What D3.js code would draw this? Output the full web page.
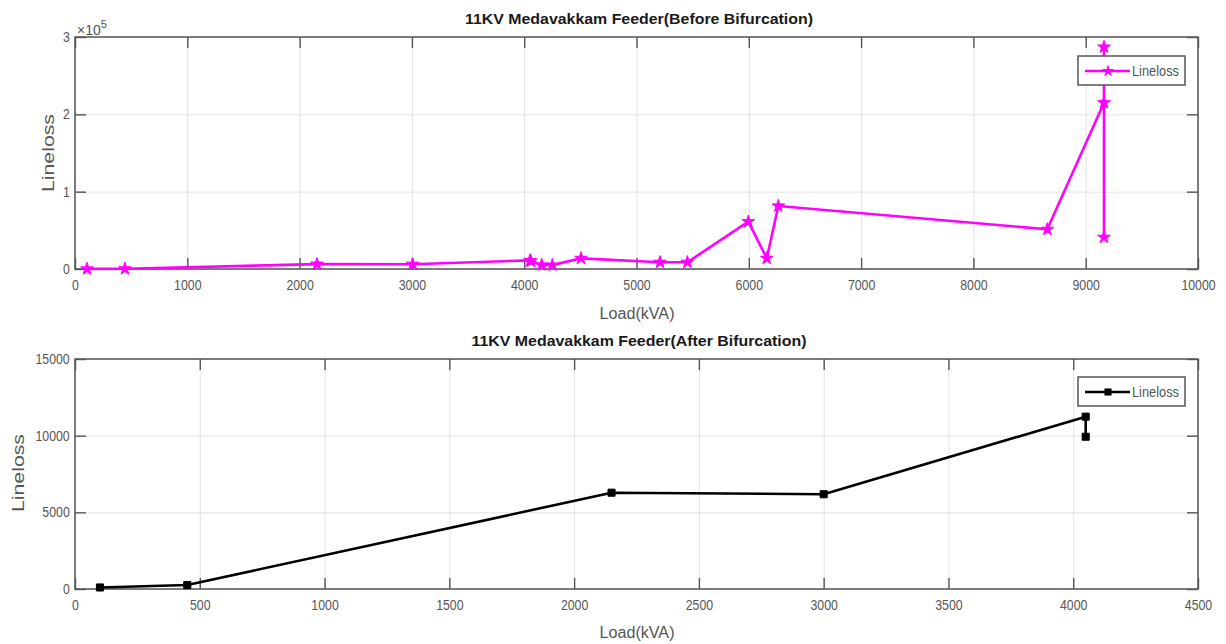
<!DOCTYPE html>
<html>
<head>
<meta charset="utf-8">
<script src="https://cdnjs.cloudflare.com/ajax/libs/d3/7.8.5/d3.min.js"></script>
<style>
  body { margin: 0; background: #fff; }
  text { font-family: "Liberation Sans", Arial, sans-serif; }
</style>
</head>
<body>
<script>
// before bifurcation (magenta)
const loadBefore = [107, 445, 2155, 3007, 4052, 4060, 4156, 4251, 4506, 5209, 5453, 5996, 6160, 6263, 8658, 9163, 9163, 9163];
const lossBefore = [100, 260, 6300, 6200, 11200, 9900, 5200, 5000, 13800, 8700, 8700, 61200, 13800, 81500, 51300, 215000, 287000, 41000];
const xTicksBefore = [0, 1000, 2000, 3000, 4000, 5000, 6000, 7000, 8000, 9000, 10000];
const yTicksBefore = [0, 100000, 200000, 300000];

// after bifurcation (black)
const loadAfter = [100, 450, 2150, 3000, 4050, 4050];
const lossAfter = [100, 260, 6280, 6180, 11240, 9930];
const xTicksAfter = [0, 500, 1000, 1500, 2000, 2500, 3000, 3500, 4000, 4500];
const yTicksAfter = [0, 5000, 10000, 15000];

const svg = d3.select("body").append("svg")
    .attr("width", 1226)
    .attr("height", 644);

function drawPanel(p) {
    let w = p.right - p.left,
        h = p.bottom - p.top;

    let x = d3.scaleLinear().domain(p.xDomain).range([0, w]),
        y = d3.scaleLinear().domain(p.yDomain).range([h, 0]);

    let g = svg.append("g").attr("transform", "translate(" + p.left + "," + p.top + ")");

    // grid
    g.append("g").attr("class", "grid")
        .attr("transform", "translate(0," + h + ")")
        .call(d3.axisBottom(x).tickValues(p.xTicks).tickSize(-h).tickFormat(""));
    g.append("g").attr("class", "grid")
        .call(d3.axisLeft(y).tickValues(p.yTicks).tickSize(-w).tickFormat(""));
    g.selectAll(".grid line").attr("stroke", "#e2e2e2").attr("stroke-width", 1);
    g.selectAll(".grid .domain").remove();

    // box
    g.append("rect").attr("width", w).attr("height", h)
        .attr("fill", "none").attr("stroke", "#606060").attr("stroke-width", 1.6);

    // inward ticks on all four sides
    let tk = 11;
    let inward = [
        g.append("g").attr("transform", "translate(0," + h + ")").call(d3.axisTop(x).tickValues(p.xTicks).tickSize(tk).tickFormat("")),
        g.append("g").call(d3.axisBottom(x).tickValues(p.xTicks).tickSize(tk).tickFormat("")),
        g.append("g").call(d3.axisRight(y).tickValues(p.yTicks).tickSize(tk).tickFormat("")),
        g.append("g").attr("transform", "translate(" + w + ",0)").call(d3.axisLeft(y).tickValues(p.yTicks).tickSize(tk).tickFormat(""))
    ];
    inward.forEach(a => {
        a.select(".domain").remove();
        a.selectAll("line").attr("stroke", "#555").attr("stroke-width", 1.4);
    });

    // tick labels
    let xl = g.append("g").attr("transform", "translate(0," + h + ")")
        .call(d3.axisBottom(x).tickValues(p.xTicks).tickSize(0).tickPadding(11).tickFormat(d3.format("d")));
    let yl = g.append("g")
        .call(d3.axisLeft(y).tickValues(p.yTicks).tickSize(0).tickPadding(6).tickFormat(p.yFormat));
    [xl, yl].forEach(a => {
        a.select(".domain").remove();
        a.selectAll("text")
            .attr("font-size", 14)
            .attr("font-family", "Liberation Sans, Arial, sans-serif")
            .attr("fill", "#555")
            .attr("transform", "scale(0.88,1)");
    });

    // line + markers
    let pts = p.xs.map((d, i) => [d, p.ys[i]]);
    let line = d3.line().x(d => x(d[0])).y(d => y(d[1]));
    g.append("path").datum(pts)
        .attr("d", line)
        .attr("fill", "none")
        .attr("stroke", p.color)
        .attr("stroke-width", 2.6)
        .attr("stroke-linejoin", "round");

    let sym = d3.symbol().type(p.symbol).size(p.symSize);
    g.selectAll(".mk").data(pts).enter().append("path")
        .attr("class", "mk")
        .attr("transform", d => "translate(" + x(d[0]) + "," + y(d[1]) + ")")
        .attr("d", sym)
        .attr("fill", p.color)
        .attr("stroke", p.color)
        .attr("stroke-width", 1);

    // title
    svg.append("text")
        .attr("x", p.titleX).attr("y", p.titleY)
        .attr("text-anchor", "middle")
        .attr("font-size", 15).attr("font-weight", "bold")
        .attr("fill", "#1a1a1a")
        .attr("textLength", p.titleLen).attr("lengthAdjust", "spacingAndGlyphs")
        .text(p.title);

    // x label
    svg.append("text")
        .attr("x", 637).attr("y", p.xLabelY)
        .attr("text-anchor", "middle")
        .attr("font-size", 16).attr("fill", "#555")
        .attr("textLength", 75).attr("lengthAdjust", "spacingAndGlyphs")
        .text("Load(kVA)");

    // y label
    svg.append("text")
        .attr("transform", "translate(" + p.yLabelX + "," + p.yLabelY + ") rotate(-90)")
        .attr("text-anchor", "middle")
        .attr("font-size", 17).attr("fill", "#555")
        .attr("textLength", 78).attr("lengthAdjust", "spacingAndGlyphs")
        .text("Lineloss");

    // legend
    let lg = svg.append("g").attr("transform", "translate(" + p.legX + "," + p.legY + ")");
    lg.append("rect").attr("width", 107).attr("height", 29)
        .attr("fill", "#fff").attr("stroke", "#555").attr("stroke-width", 1.5);
    lg.append("line").attr("x1", 7).attr("x2", 52).attr("y1", 15).attr("y2", 15)
        .attr("stroke", p.color).attr("stroke-width", 2.6);
    lg.append("path").attr("transform", "translate(30,15)")
        .attr("d", sym).attr("fill", p.color);
    lg.append("text").attr("x", 54).attr("y", 20)
        .attr("font-size", 14).attr("fill", "#555")
        .attr("textLength", 47).attr("lengthAdjust", "spacingAndGlyphs")
        .text("Lineloss");

    return g;
}

drawPanel({
    left: 75, right: 1198, top: 37, bottom: 269,
    xDomain: [0, 10000], yDomain: [0, 300000],
    xTicks: xTicksBefore, yTicks: yTicksBefore,
    yFormat: d => d / 100000,
    xs: loadBefore, ys: lossBefore,
    color: "#ff00ff", symbol: d3.symbolStar, symSize: 50,
    title: "11KV Medavakkam Feeder(Before Bifurcation)", titleX: 639, titleY: 24, titleLen: 348,
    xLabelY: 319, yLabelX: 54, yLabelY: 153,
    legX: 1078, legY: 56
});

// x10^5 exponent label
let ex = svg.append("text").attr("x", 77).attr("y", 35)
    .attr("font-size", 14).attr("fill", "#555");
ex.append("tspan").text("×10");
ex.append("tspan").attr("dy", -7).attr("font-size", 11).text("5");

drawPanel({
    left: 75, right: 1198, top: 359, bottom: 589,
    xDomain: [0, 4500], yDomain: [0, 15000],
    xTicks: xTicksAfter, yTicks: yTicksAfter,
    yFormat: d3.format("d"),
    xs: loadAfter, ys: lossAfter,
    color: "#000", symbol: d3.symbolSquare, symSize: 50,
    title: "11KV Medavakkam Feeder(After Bifurcation)", titleX: 639, titleY: 346, titleLen: 335,
    xLabelY: 638, yLabelX: 24, yLabelY: 473,
    legX: 1078, legY: 377
});
</script>
</body>
</html>
